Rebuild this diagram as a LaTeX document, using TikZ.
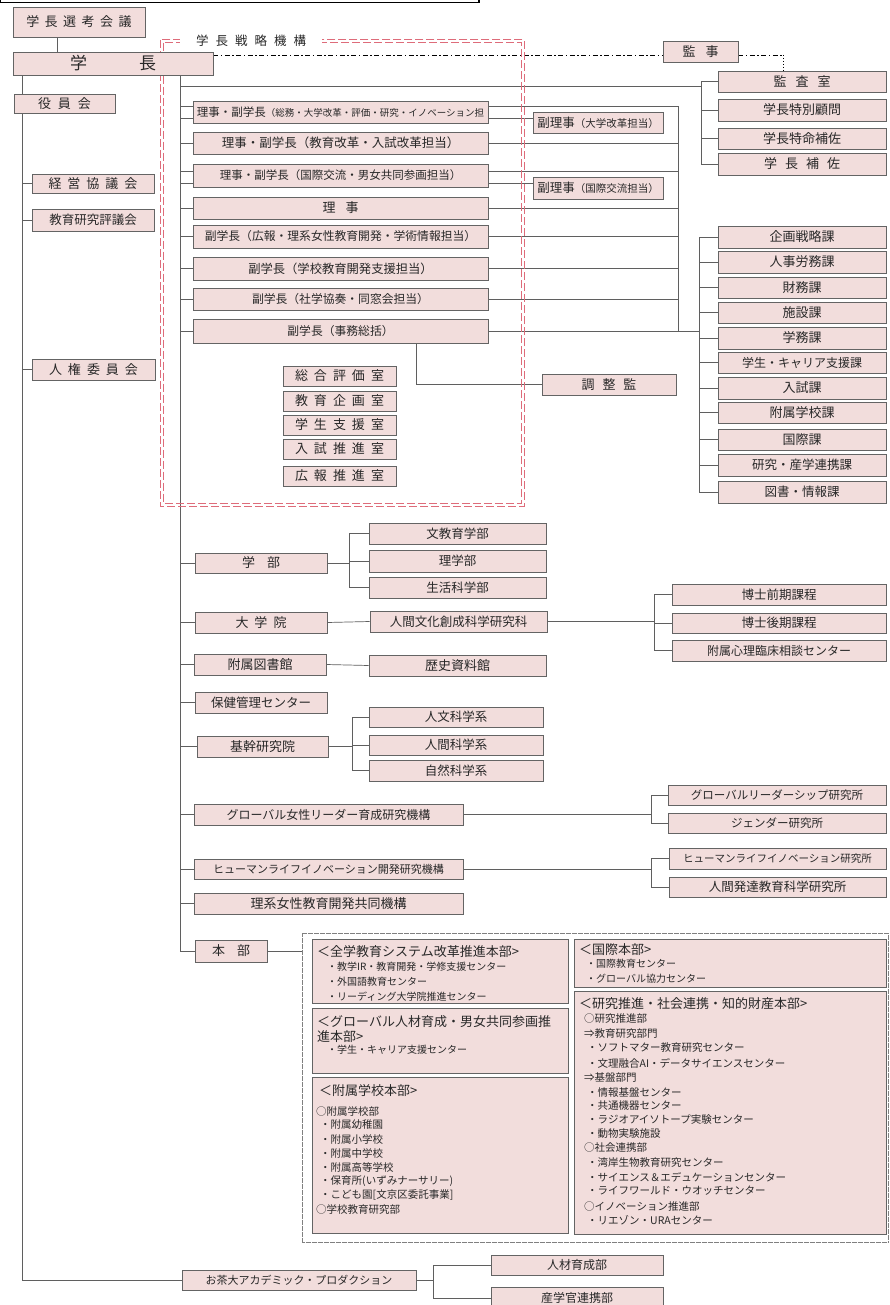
\documentclass[tikz,border=0pt]{standalone}
\usepackage{fontspec}
\setmainfont{Noto Sans CJK JP}
\usetikzlibrary{shadows}
\definecolor{boxfill}{RGB}{242,221,220}
\definecolor{boxline}{RGB}{100,100,100}
\definecolor{linec}{RGB}{95,95,95}
\definecolor{redd}{RGB}{222,108,122}
\definecolor{txt}{RGB}{40,40,40}
\newcommand{\fsz}[1]{\fontsize{#1}{#1}\selectfont}
\newlength\sgap
\def\sploop#1{\ifx#1\relax\else\hspace{\sgap}#1\expandafter\sploop\fi}
\def\sploopstart#1{#1\sploop}
\newcommand{\sptxt}[2]{\setlength\sgap{#1}\sploopstart#2\relax}
\newcommand{\bxn}[7][]{%
 \pgfmathsetmacro\bxcx{(#3+#5)/2}%
 \pgfmathsetmacro\bxcy{(#4+#6)/2}%
 \pgfmathsetmacro\bxw{#5-#3}%
 \pgfmathsetmacro\bxh{#6-#4}%
 \node[box,minimum width=\bxw pt,minimum height=\bxh pt,#1] (#2) at (\bxcx,\bxcy) {#7};}
\pgfdeclarelayer{background}
\pgfsetlayers{background,main}
\begin{document}
\begin{tikzpicture}[x=1pt,y=-1pt,
 box/.style={draw=boxline,fill=boxfill,line width=0.6pt,inner sep=0pt,text=txt,font=\fsz{12.5},
   drop shadow={shadow xshift=1.3pt,shadow yshift=-1.3pt,fill=black!65,opacity=0.8}},
 conn/.style={draw=linec,line width=0.7pt},
 ddline/.style={draw=black,line width=0.9pt,dash pattern=on 5pt off 2.5pt on 1.5pt off 2.5pt},
 dotline/.style={draw=black,line width=0.9pt,dash pattern=on 1pt off 2pt},
 redframe/.style={draw=redd,line width=1.1pt,dash pattern=on 8pt off 3pt},
 dotframe/.style={draw=gray,line width=0.5pt,dash pattern=on 0.6pt off 0.6pt,inner sep=0pt},
 lbl/.style={anchor=west,inner sep=0pt,text=txt,font=\fsz{10}},
 lblb/.style={anchor=west,inner sep=0pt,text=txt,font=\fsz{10.5}},
 hdr/.style={anchor=west,inner sep=0pt,text=txt,font=\fsz{13}}]
\useasboundingbox (0,0) rectangle (890,1305);

% coordinates
\coordinate (T1) at (22,0);
\coordinate (T2) at (180,0);
\coordinate (S) at (57,0);
\coordinate (B1) at (701,0);
\coordinate (B2) at (678,0);
\coordinate (B3) at (699,0);
\coordinate (B4) at (349,0);
\coordinate (B5) at (654,0);
\coordinate (B6) at (352,0);
\coordinate (B7) at (651,0);
\coordinate (B8) at (433,0);
\coordinate (X) at (416,0);
\coordinate (DD) at (0,55);
\coordinate (DDX) at (783,55);
\coordinate (H86) at (0,86);
\coordinate (Y106) at (0,106);
\coordinate (Y118) at (0,118);
\coordinate (Y171) at (0,171);
\coordinate (Y183) at (0,183);

% top frame
\draw[black,line width=1.2pt] (0.6,-20) rectangle (479,2.5);

% red strategy frame (double dashed)
\draw[redframe] (160.8,39.8) rectangle (524.2,506.2);
\draw[redframe] (163.6,42.6) rectangle (521.4,503.4);
\node[fill=white,inner xsep=16pt,inner ysep=3pt,text=txt,font=\fsz{12.5}] (senryaku) at (251,41) {\sptxt{7pt}{学長戦略機構}};

% left column
\bxn[font=\fsz{13}]{senko}{13}{7}{145}{37}{\sptxt{5.5pt}{学長選考会議}}
\bxn[font=\fsz{17}]{gakucho}{13}{52}{213}{75}{学\hspace{52pt}長}
\bxn[font=\fsz{13}]{kanji}{663}{41}{738}{62}{監\hspace{10pt}事}
\bxn[font=\fsz{13}]{yakuin}{14}{94}{115}{113}{\sptxt{7pt}{役員会}}
\bxn[font=\fsz{13}]{keiei}{32}{174}{154}{193}{\sptxt{6pt}{経営協議会}}
\bxn[font=\fsz{12.5}]{kyoiku}{32}{209}{154}{231}{教育研究評議会}
\bxn[font=\fsz{13}]{jinken}{32}{359}{155}{380}{\sptxt{6pt}{人権委員会}}

% audit group
\bxn[font=\fsz{13}]{kansa}{718}{71}{886}{92}{\sptxt{9pt}{監査室}}
\bxn[font=\fsz{13}]{komon}{718}{99}{886}{121}{学長特別顧問}
\bxn[font=\fsz{13}]{tokumei}{718}{128}{886}{149}{学長特命補佐}
\bxn[font=\fsz{13}]{hosa}{718}{153}{886}{175}{\sptxt{8pt}{学長補佐}}

% vice presidents
\bxn{r1}{193}{101}{488}{123}{{\fsz{11.5}理事・副学長}{\fsz{9.5}（総務・大学改革・評価・研究・イノベーション担}}
\bxn[font=\fsz{12.5}]{r2}{193}{132}{488}{154}{理事・副学長（教育改革・入試改革担当）}
\bxn[font=\fsz{11.5}]{r3}{193}{164}{488}{187}{理事・副学長（国際交流・男女共同参画担当）}
\bxn[font=\fsz{13}]{r4}{193}{197}{488}{219}{理\hspace{10pt}事}
\bxn[font=\fsz{11.8}]{r5}{193}{225}{488}{248}{副学長（広報・理系女性教育開発・学術情報担当）}
\bxn[font=\fsz{12.3}]{r6}{193}{257}{488}{280}{副学長（学校教育開発支援担当）}
\bxn[font=\fsz{11.8}]{r7}{193}{288}{488}{310}{副学長（社学協奏・同窓会担当）}
\bxn[font=\fsz{11.8}]{r8}{193}{319}{488}{343}{副学長（事務総括）}
\bxn{fr1}{533}{112}{663}{133}{{\fsz{12.5}副理事}{\fsz{10.5}（大学改革担当）}}
\bxn{fr2}{533}{177}{663}{199}{{\fsz{12.5}副理事}{\fsz{10.5}（国際交流担当）}}
\bxn[font=\fsz{13}]{chosei}{542}{374}{676}{395}{\sptxt{8pt}{調整監}}

% rooms
\bxn[font=\fsz{13}]{room1}{283}{366}{396}{386}{\sptxt{6pt}{総合評価室}}
\bxn[font=\fsz{13}]{room2}{283}{391}{396}{411}{\sptxt{6pt}{教育企画室}}
\bxn[font=\fsz{13}]{room3}{283}{415}{396}{435}{\sptxt{6pt}{学生支援室}}
\bxn[font=\fsz{13}]{room4}{283}{439}{396}{459}{\sptxt{6pt}{入試推進室}}
\bxn[font=\fsz{13}]{room5}{283}{466}{396}{486}{\sptxt{6pt}{広報推進室}}

% divisions
\bxn[font=\fsz{13}]{k1}{718}{226}{886}{248}{企画戦略課}
\bxn[font=\fsz{13}]{k2}{718}{251}{886}{273}{人事労務課}
\bxn[font=\fsz{13}]{k3}{718}{277}{886}{298}{財務課}
\bxn[font=\fsz{13}]{k4}{718}{302}{886}{323}{施設課}
\bxn[font=\fsz{13}]{k5}{718}{327}{886}{349}{学務課}
\bxn[font=\fsz{12}]{k6}{718}{352}{886}{373}{学生・キャリア支援課}
\bxn[font=\fsz{13}]{k7}{718}{377}{886}{399}{入試課}
\bxn[font=\fsz{13}]{k8}{718}{402}{886}{423}{附属学校課}
\bxn[font=\fsz{13}]{k9}{718}{429}{886}{450}{国際課}
\bxn[font=\fsz{12.5}]{k10}{718}{454}{886}{476}{研究・産学連携課}
\bxn[font=\fsz{12.5}]{k11}{718}{481}{886}{503}{図書・情報課}

% faculties etc.
\bxn[font=\fsz{13}]{gakubu}{195}{553}{327}{573}{学\hspace{12pt}部}
\bxn{bun}{369}{523}{546}{544}{文教育学部}
\bxn{rigaku}{369}{550}{546}{572}{理学部}
\bxn{seikatsu}{369}{577}{546}{598}{生活科学部}
\bxn[font=\fsz{13}]{daigakuin}{195}{612}{327}{633}{\sptxt{6pt}{大学院}}
\bxn{jinbun}{370}{611}{547}{632}{人間文化創成科学研究科}
\bxn{zenki}{672}{584}{886}{605}{博士前期課程}
\bxn{koki}{672}{613}{886}{633}{博士後期課程}
\bxn[font=\fsz{12}]{shinri}{672}{640}{886}{661}{附属心理臨床相談センター}
\bxn[font=\fsz{13}]{tosho}{194}{654}{326}{675}{附属図書館}
\bxn[font=\fsz{13}]{rekishi}{369}{655}{546}{676}{歴史資料館}
\bxn{hoken}{195}{692}{327}{713}{保健管理センター}
\bxn[font=\fsz{13}]{kikan}{197}{736}{328}{757}{基幹研究院}
\bxn{jinbunkei}{369}{707}{543}{727}{人文科学系}
\bxn{ningenkei}{369}{735}{543}{755}{人間科学系}
\bxn{shizenkei}{369}{760}{543}{781}{自然科学系}
\bxn[font=\fsz{12}]{global}{194}{804}{463}{825}{グローバル女性リーダー育成研究機構}
\bxn[font=\fsz{11.5}]{glead}{668}{785}{886}{805}{グローバルリーダーシップ研究所}
\bxn[font=\fsz{11.5}]{gender}{668}{813}{886}{833}{ジェンダー研究所}
\bxn[font=\fsz{11}]{human}{194}{859}{463}{879}{ヒューマンライフイノベーション開発研究機構}
\bxn[font=\fsz{10.5}]{hli}{669}{848}{886}{869}{ヒューマンライフイノベーション研究所}
\bxn{hattatsu}{669}{877}{886}{897}{人間発達教育科学研究所}
\bxn[font=\fsz{13}]{rikei}{194}{893}{463}{914}{理系女性教育開発共同機構}
\bxn[font=\fsz{13}]{honbu}{195}{940}{267}{962}{本\hspace{12pt}部}

% headquarters frame
\node[dotframe,minimum width=586pt,minimum height=309pt] (hq) at (595,1087.5) {};
\bxn{zen}{312}{939}{568}{1003}{}
\bxn{glo}{312}{1008}{568}{1073}{}
\bxn{fuzoku}{312}{1077}{568}{1233}{}
\bxn{kokusai}{574}{939}{886}{987}{}
\bxn{kenkyu}{574}{991}{886}{1234}{}

\node[hdr] (zen0) at (317,952) {＜全学教育システム改革推進本部>};
\node[lbl] (zen1) at (327,967) {・教学IR・教育開発・学修支援センター};
\node[lbl] (zen2) at (327,982) {・外国語教育センター};
\node[lbl] (zen3) at (327,997) {・リーディング大学院推進センター};

\node[hdr] (glo0) at (317,1022) {＜グローバル人材育成・男女共同参画推};
\node[hdr] (glo1) at (317,1037) {進本部>};
\node[lbl] (glo2) at (327,1050) {・学生・キャリア支援センター};

\node[hdr] (fz0) at (319,1091) {＜附属学校本部>};
\node[lblb] (fz1) at (316,1111) {○附属学校部};
\node[lblb] (fz2) at (320,1125) {・附属幼稚園};
\node[lblb] (fz3) at (320,1139) {・附属小学校};
\node[lblb] (fz4) at (320,1153) {・附属中学校};
\node[lblb] (fz5) at (320,1167) {・附属高等学校};
\node[lblb] (fz6) at (320,1181) {・保育所(いずみナーサリー)};
\node[lblb] (fz7) at (320,1195) {・こども園[文京区委託事業]};
\node[lblb] (fz8) at (316,1209) {○学校教育研究部};

\node[hdr] (kk0) at (579,950) {＜国際本部>};
\node[lbl] (kk1) at (586,964) {・国際教育センター};
\node[lbl] (kk2) at (586,979) {・グローバル協力センター};

\node[hdr] (ke0) at (579,1004) {＜研究推進・社会連携・知的財産本部>};
\node[lblb] (ke1) at (584,1019) {○研究推進部};
\node[lblb] (ke2) at (584,1034) {⇒教育研究部門};
\node[lblb] (ke3) at (587,1048) {・ソフトマター教育研究センター};
\node[lblb] (ke4) at (587,1063) {・文理融合AI・データサイエンスセンター};
\node[lblb] (ke5) at (584,1077) {⇒基盤部門};
\node[lblb] (ke6) at (587,1092) {・情報基盤センター};
\node[lblb] (ke7) at (587,1106) {・共通機器センター};
\node[lblb] (ke8) at (587,1120) {・ラジオアイソトープ実験センター};
\node[lblb] (ke9) at (587,1134) {・動物実験施設};
\node[lblb] (ke10) at (584,1148) {○社会連携部};
\node[lblb] (ke11) at (587,1163) {・湾岸生物教育研究センター};
\node[lblb] (ke12) at (587,1177) {・サイエンス＆エデュケーションセンター};
\node[lblb] (ke13) at (587,1191) {・ライフワールド・ウオッチセンター};
\node[lblb] (ke14) at (584,1206) {○イノベーション推進部};
\node[lblb] (ke15) at (587,1220) {・リエゾン・URAセンター};

% bottom
\bxn[font=\fsz{11}]{ochadai}{182}{1270}{416}{1290}{お茶大アカデミック・プロダクション}
\bxn[font=\fsz{12}]{jinzai}{491}{1255}{663}{1275}{人材育成部}
\bxn[font=\fsz{12}]{sangaku}{491}{1287}{663}{1309}{産学官連携部}

% connectors
\begin{pgfonlayer}{background}
\fill[white] (0,0) rectangle (890,1305);
\draw[conn] (senko.south -| S) -- (gakucho.north -| S);
\draw[conn] (gakucho.south -| T1) |- (ochadai.west);
\draw[conn] (T1 |- keiei.west) -- (keiei.west);
\draw[conn] (T1 |- kyoiku.west) -- (kyoiku.west);
\draw[conn] (T1 |- jinken.west) -- (jinken.west);
\draw[conn] (gakucho.south -| T2) |- (honbu.west);
\draw[conn] (T2 |- H86) -- (B1 |- H86);
\draw[conn] (kansa.west) -- (B1 |- kansa.west) -- (B1 |- hosa.west) -- (hosa.west);
\draw[conn] (komon.west) -- (B1 |- komon.west);
\draw[conn] (tokumei.west) -- (B1 |- tokumei.west);
\draw[conn] (T2 |- Y106) -- (B2 |- Y106) -- (B2 |- r8.east);
\draw[conn] (T2 |- Y118) -- (fr1.west |- Y118);
\draw[conn] (T2 |- r2.west) -- (B2 |- r2.west);
\draw[conn] (T2 |- Y171) -- (B2 |- Y171);
\draw[conn] (T2 |- Y183) -- (fr2.west |- Y183);
\draw[conn] (T2 |- r4.west) -- (B2 |- r4.west);
\draw[conn] (T2 |- r5.west) -- (B2 |- r5.west);
\draw[conn] (T2 |- r6.west) -- (B2 |- r6.west);
\draw[conn] (T2 |- r7.west) -- (B2 |- r7.west);
\draw[conn] (T2 |- r8.west) -- (B3 |- r8.west);
\draw[conn] (r8.south -| X) |- (chosei.west);
\draw[conn] (k1.west) -- (B3 |- k1.west) -- (B3 |- k11.west) -- (k11.west);
\foreach \k in {k2,k3,k4,k5,k6,k7,k8,k9,k10} {\draw[conn] (\k.west) -- (B3 |- \k.west);}
% lower
\foreach \n in {gakubu,daigakuin,tosho,hoken,kikan,global,human,rikei} {\draw[conn] (T2 |- \n.west) -- (\n.west);}
\draw[conn] (gakubu.east) -- (B4 |- gakubu.east);
\draw[conn] (bun.west) -- (B4 |- bun.west) -- (B4 |- seikatsu.west) -- (seikatsu.west);
\draw[conn] (rigaku.west) -- (B4 |- rigaku.west);
\draw[conn] (daigakuin.east) -- (jinbun.west);
\draw[conn] (jinbun.east) -- (B5 |- jinbun.east);
\draw[conn] (zenki.west) -- (B5 |- zenki.west) -- (B5 |- shinri.west) -- (shinri.west);
\draw[conn] (koki.west) -- (B5 |- koki.west);
\draw[conn] (tosho.east) -- (rekishi.west);
\draw[conn] (kikan.east) -- (B6 |- kikan.east);
\draw[conn] (jinbunkei.west) -- (B6 |- jinbunkei.west) -- (B6 |- shizenkei.west) -- (shizenkei.west);
\draw[conn] (ningenkei.west) -- (B6 |- ningenkei.west);
\draw[conn] (global.east) -- (B7 |- global.east);
\draw[conn] (glead.west) -- (B7 |- glead.west) -- (B7 |- gender.west) -- (gender.west);
\draw[conn] (human.east) -- (B7 |- human.east);
\draw[conn] (hli.west) -- (B7 |- hli.west) -- (B7 |- hattatsu.west) -- (hattatsu.west);
\draw[conn] (honbu.east) -- (hq.west |- honbu.east);
\draw[conn] (ochadai.east) -- (B8 |- ochadai.east);
\draw[conn] (jinzai.west) -- (B8 |- jinzai.west) -- (B8 |- sangaku.west) -- (sangaku.west);
% dash-dot to auditor
\draw[ddline] (gakucho.east |- DD) -- (kanji.west |- DD);
\draw[ddline] (kanji.east |- DD) -- (DDX);
\draw[dotline] (DDX) -- (DDX |- kansa.north);
\end{pgfonlayer}
\end{tikzpicture}
\end{document}
